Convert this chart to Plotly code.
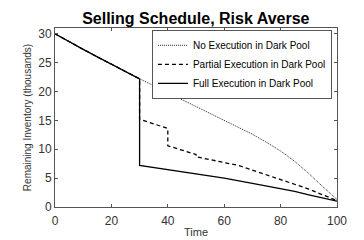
import plotly.graph_objects as go

# Shared segment before the dark-pool event (t = 0..30)
t_pre = [0, 5, 10, 15, 20, 25, 30]
inv_pre = [30.0, 28.6, 27.3, 26.0, 24.7, 23.4, 22.2]

# No execution in dark pool
t_none = [35, 40, 45, 50, 55, 60, 65, 70, 75, 80, 85, 90, 95, 100]
inv_none = [21.0, 19.8, 18.6, 17.4, 16.2, 15.0, 13.9, 12.6, 11.2, 9.7, 7.9, 5.8, 3.5, 1.3]

# Partial execution in dark pool
t_partial = [30, 40, 40, 50, 50, 60, 65, 70, 80, 90, 100]
inv_partial = [15.2, 13.6, 10.6, 9.1, 8.7, 7.7, 7.2, 6.4, 4.8, 3.1, 1.1]

# Full execution in dark pool
t_full = [30, 40, 50, 60, 70, 80, 85, 90, 95, 100]
inv_full = [7.2, 6.5, 5.8, 5.0, 4.1, 3.2, 2.7, 2.1, 1.5, 1.0]

series_names = ["No Execution in Dark Pool",
                "Partial Execution in Dark Pool",
                "Full Execution in Dark Pool"]

x_ticks = [0, 20, 40, 60, 80, 100]
y_ticks = [0, 5, 10, 15, 20, 25, 30]

fig = go.Figure()
fig.add_trace(go.Scatter(x=t_pre + t_none, y=inv_pre + inv_none, mode="lines",
                         name=series_names[0],
                         line=dict(color="#222222", width=1, dash="1px,1px")))
fig.add_trace(go.Scatter(x=t_pre + t_partial, y=inv_pre + inv_partial, mode="lines",
                         name=series_names[1],
                         line=dict(color="#000000", width=1.3, dash="4px,3px")))
fig.add_trace(go.Scatter(x=t_pre + t_full, y=inv_pre + inv_full, mode="lines",
                         name=series_names[2],
                         line=dict(color="#000000", width=1.3)))

axis_common = dict(showgrid=False, zeroline=False, showline=True, linecolor="#555555",
                   linewidth=1, mirror="ticks", ticks="inside", ticklen=3,
                   tickcolor="#555555",
                   tickfont=dict(family="Liberation Sans, Arial", size=12, color="#333333"))

fig.update_layout(
    width=364, height=240,
    margin=dict(l=47, r=35, t=20, b=27),
    paper_bgcolor="white", plot_bgcolor="white",
    title=dict(text="<b>Selling Schedule, Risk Averse</b>", x=0.516, xref="container",
               xanchor="center", y=0.958, yanchor="middle", yref="container",
               pad=dict(t=0, b=0),
               font=dict(family="Liberation Sans, Arial", size=16, color="#000000")),
    xaxis=dict(range=[0, 100], tickvals=x_ticks, ticklabelstandoff=3, **axis_common,
               title=dict(text="Time", standoff=0,
                          font=dict(family="Liberation Sans, Arial", size=11, color="#333333"))),
    yaxis=dict(range=[0, 31], tickvals=y_ticks, **axis_common,
               title=dict(text="Remaining Inventory (thousands)", standoff=4,
                          font=dict(family="Liberation Sans, Arial", size=10, color="#333333"))),
    legend=dict(x=0.982, y=0.99, xanchor="right", yanchor="top",
                bgcolor="white", bordercolor="#555555", borderwidth=1,
                font=dict(family="Liberation Sans, Arial", size=10, color="#000000"),
                itemwidth=30, tracegroupgap=0),
    showlegend=True,
)

fig.write_html("out.html")
